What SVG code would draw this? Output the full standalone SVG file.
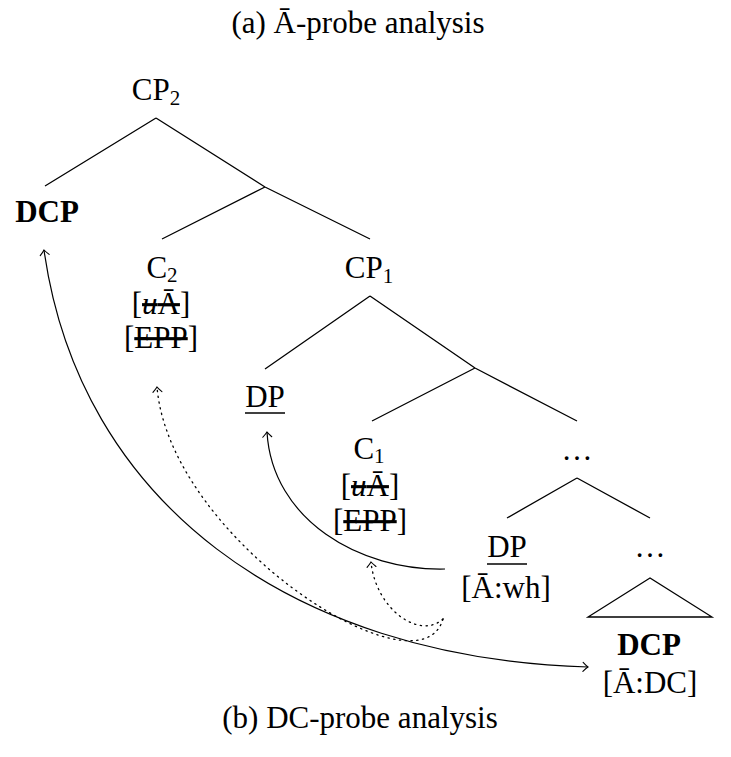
<svg xmlns="http://www.w3.org/2000/svg" width="731" height="757" viewBox="0 0 731 757">
<style>
text{font-family:"Liberation Serif","Times New Roman",serif;font-size:31px;fill:#000;text-anchor:middle}
.b{font-weight:bold}
.sub{font-size:21px}
.s{text-decoration:line-through}
.e{fill:none;stroke:#000;stroke-width:1.3}
.a{fill:none;stroke:#000;stroke-width:1.2}
.d{fill:none;stroke:#000;stroke-width:1.3;stroke-dasharray:1.3 4.5;stroke-linecap:round}
</style>
<defs>
<marker id="ar" markerUnits="userSpaceOnUse" markerWidth="14" markerHeight="14" refX="0" refY="0" viewBox="-8 -7 10 14" orient="auto-start-reverse">
<path d="M-5,-4.5 Q-1.5,-1 0,0 Q-1.5,1 -5,4.5" fill="none" stroke="#000" stroke-width="1.1" stroke-linecap="round"/>
</marker>
</defs>
<text id="title-a" x="358" y="33">(a) Ā-probe analysis</text>
<text id="title-b" x="360" y="728">(b) DC-probe analysis</text>

<g id="edges">
<path class="e" d="M156,118 L45,186 M156,118 L265,187 M265,187 L162,239 M265,187 L370,239"/>
<path class="e" d="M370,296 L265,369 M370,296 L475,368 M475,368 L372,421 M475,368 L577,421"/>
<path class="e" d="M577,478 L507,518 M577,478 L650,518"/>
<path class="e" d="M650,578 L588,617 L712,617 Z"/>
</g>

<g id="cp2"><text x="156" y="100">CP<tspan class="sub" dy="5">2</tspan></text></g>
<g id="dcp-top"><text class="b" x="47" y="222">DCP</text></g>
<g id="c2">
<text x="162" y="278">C<tspan class="sub" dy="4">2</tspan></text>
<text x="161" y="314">[<tspan class="s"><tspan font-style="italic">u</tspan>Ā</tspan>]</text>
<text x="161" y="348">[<tspan class="s">EPP</tspan>]</text>
</g>
<g id="cp1"><text x="369" y="278">CP<tspan class="sub" dy="5">1</tspan></text></g>
<g id="dp-left"><text x="265" y="407">DP</text><line class="e" x1="245" y1="413" x2="285" y2="413"/></g>
<g id="c1">
<text x="369" y="459">C<tspan class="sub" dy="4">1</tspan></text>
<text x="370" y="496">[<tspan class="s"><tspan font-style="italic">u</tspan>Ā</tspan>]</text>
<text x="370" y="531">[<tspan class="s">EPP</tspan>]</text>
</g>
<g id="dots-upper"><text x="577" y="460">…</text></g>
<g id="dp-right"><text x="507" y="557">DP</text><line class="e" x1="487" y1="564" x2="527" y2="564"/><text x="506" y="598">[Ā:wh]</text></g>
<g id="dots-lower"><text x="650" y="557">…</text></g>
<g id="dcp-bottom"><text class="b" x="649" y="655">DCP</text><text x="650" y="693">[Ā:DC]</text></g>

<g id="connectors">
<path class="a" marker-start="url(#ar)" marker-end="url(#ar)" d="M44,250 C79,500 288,658 588,667"/>
<path class="a" marker-end="url(#ar)" d="M445,569 C360,571 272,520 267,432"/>
<path class="d" marker-end="url(#ar)" d="M443,619 C420,700 170,540 157,387"/>
<path class="d" marker-end="url(#ar)" d="M443,619 C420,640 376,610 371,562"/>
</g>
</svg>
